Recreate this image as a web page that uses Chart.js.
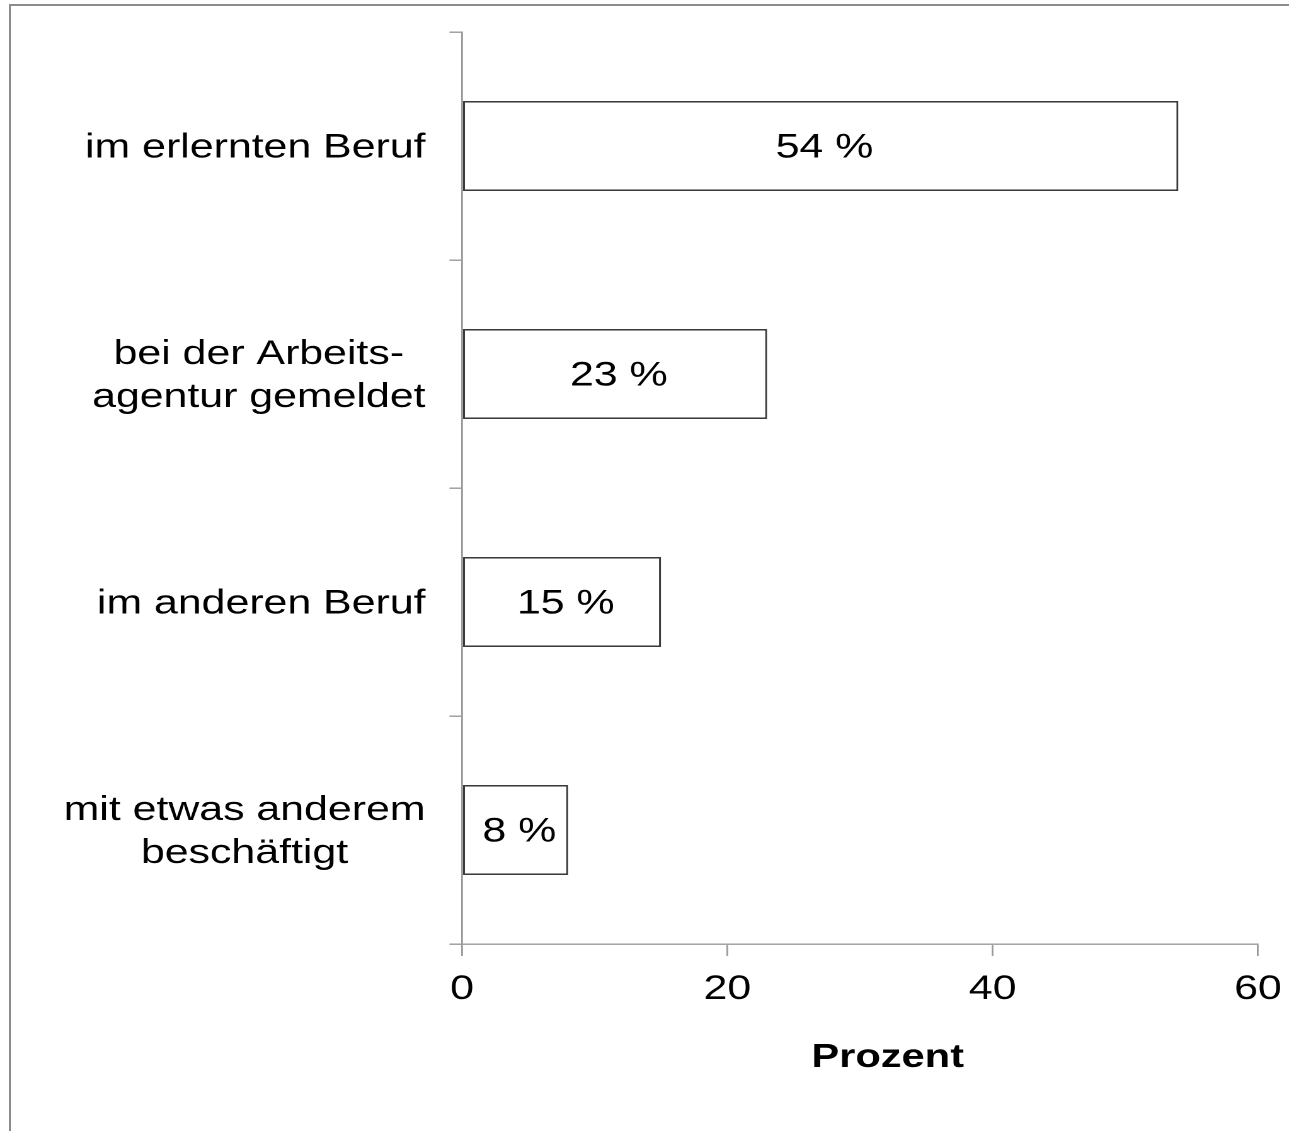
<!DOCTYPE html>
<html lang="de">
<head>
<meta charset="utf-8">
<title>Verbleib nach der Ausbildung</title>
<script src="https://cdn.jsdelivr.net/npm/chart.js@4.4.1/dist/chart.umd.min.js"></script>
<style>
  html, body { margin: 0; padding: 0; background: #fff; }
  body { width: 1289px; height: 1131px; position: relative; overflow: hidden; }
  .frame {
    position: absolute; left: 9px; top: 4px; right: 0; bottom: 0;
    border-left: 2px solid #8c8c8c; border-top: 2px solid #8c8c8c;
  }
  /* the chart is laid out narrow and widened horizontally */
  .wide {
    position: absolute; left: 0; top: 0;
    width: 1023px; height: 1131px;
    transform: scaleX(1.26); transform-origin: 0 0;
  }
</style>
</head>
<body>
<div class="frame"></div>
<div class="wide"><canvas id="chart"></canvas></div>
<script>
// Verbleib der Absolventen (Anteile in Prozent)
const categories = [
  ['im erlernten Beruf'],
  ['bei der Arbeits-', 'agentur gemeldet'],
  ['im anderen Beruf'],
  ['mit etwas anderem', 'beschäftigt']
];
const shares = [54, 23, 15, 8];
const xTicks = [0, 20, 40, 60];
const axisTitle = 'Prozent';

const FONT = '"Liberation Sans", Arial, sans-serif';
const AXIS_GREY = '#9a9a9a';

// category labels: block right-aligned to the axis, lines centred within the block
const categoryLabels = {
  id: 'categoryLabels',
  afterDraw(chart) {
    const { ctx, chartArea } = chart;
    const y = chart.scales.y;
    ctx.save();
    ctx.font = `34px ${FONT}`;
    ctx.fillStyle = '#000';
    ctx.textAlign = 'center';
    ctx.textBaseline = 'middle';
    const lineH = 43;
    const right = chartArea.left - 29;
    categories.forEach((lines, i) => {
      const w = Math.max(...lines.map(l => ctx.measureText(l).width));
      const cx = right - w / 2;
      const cy = y.getPixelForValue(i) + 2;
      const y0 = cy - (lines.length - 1) * lineH / 2;
      lines.forEach((l, k) => ctx.fillText(l, cx, y0 + k * lineH));
    });
    ctx.restore();
  }
};

// percentage labels in the middle of each bar
const valueLabels = {
  id: 'valueLabels',
  afterDatasetsDraw(chart) {
    const { ctx } = chart;
    const meta = chart.getDatasetMeta(0);
    ctx.save();
    ctx.font = `34px ${FONT}`;
    ctx.fillStyle = '#000';
    ctx.textAlign = 'center';
    ctx.textBaseline = 'middle';
    meta.data.forEach((bar, i) => {
      const cx = (bar.base + bar.x) / 2 + 3;
      ctx.fillText(`${shares[i]} %`, cx, bar.y + 2);
    });
    ctx.restore();
  }
};

// bold axis title below the value axis
const axisTitleLabel = {
  id: 'axisTitleLabel',
  afterDraw(chart) {
    const { ctx, chartArea } = chart;
    ctx.save();
    ctx.font = `bold 33px ${FONT}`;
    ctx.fillStyle = '#000';
    ctx.textAlign = 'center';
    ctx.textBaseline = 'middle';
    ctx.fillText(axisTitle, (chartArea.left + chartArea.right) / 2 + 22, 1058);
    ctx.restore();
  }
};

new Chart(document.getElementById('chart'), {
  type: 'bar',
  data: {
    labels: categories.map(l => l.join(' ')),
    datasets: [{
      data: shares,
      backgroundColor: '#ffffff',
      borderColor: '#3a3a3a',
      borderWidth: 1.6,
      borderSkipped: false,
      categoryPercentage: 1,
      barPercentage: 0.395
    }]
  },
  options: {
    indexAxis: 'y',
    responsive: true,
    maintainAspectRatio: false,
    devicePixelRatio: 2,
    animation: false,
    layout: { padding: { left: 0, top: 32, right: 24.6, bottom: 0 } },
    plugins: { legend: { display: false }, tooltip: { enabled: false } },
    scales: {
      x: {
        type: 'linear',
        min: xTicks[0],
        max: xTicks[xTicks.length - 1],
        afterBuildTicks(scale) { scale.ticks = xTicks.map(v => ({ value: v })); },
        afterFit(scale) {
          scale.height = 187;
          scale.paddingLeft = 0;
          scale.paddingRight = 0;
        },
        grid: { drawOnChartArea: false, drawTicks: true, tickLength: 12, color: AXIS_GREY, lineWidth: 1.4 },
        border: { display: true, color: AXIS_GREY, width: 1.4 },
        ticks: { color: '#000', font: { family: FONT, size: 34 }, padding: 13, maxRotation: 0 }
      },
      y: {
        afterFit(scale) {
          scale.width = 366.7;
          scale.paddingTop = 0;
          scale.paddingBottom = 0;
        },
        grid: { drawOnChartArea: false, drawTicks: true, tickLength: 10, offset: true, color: AXIS_GREY, lineWidth: 1.4 },
        border: { display: true, color: AXIS_GREY, width: 1.4 },
        ticks: { display: false }
      }
    }
  },
  plugins: [categoryLabels, valueLabels, axisTitleLabel]
});
</script>
</body>
</html>
